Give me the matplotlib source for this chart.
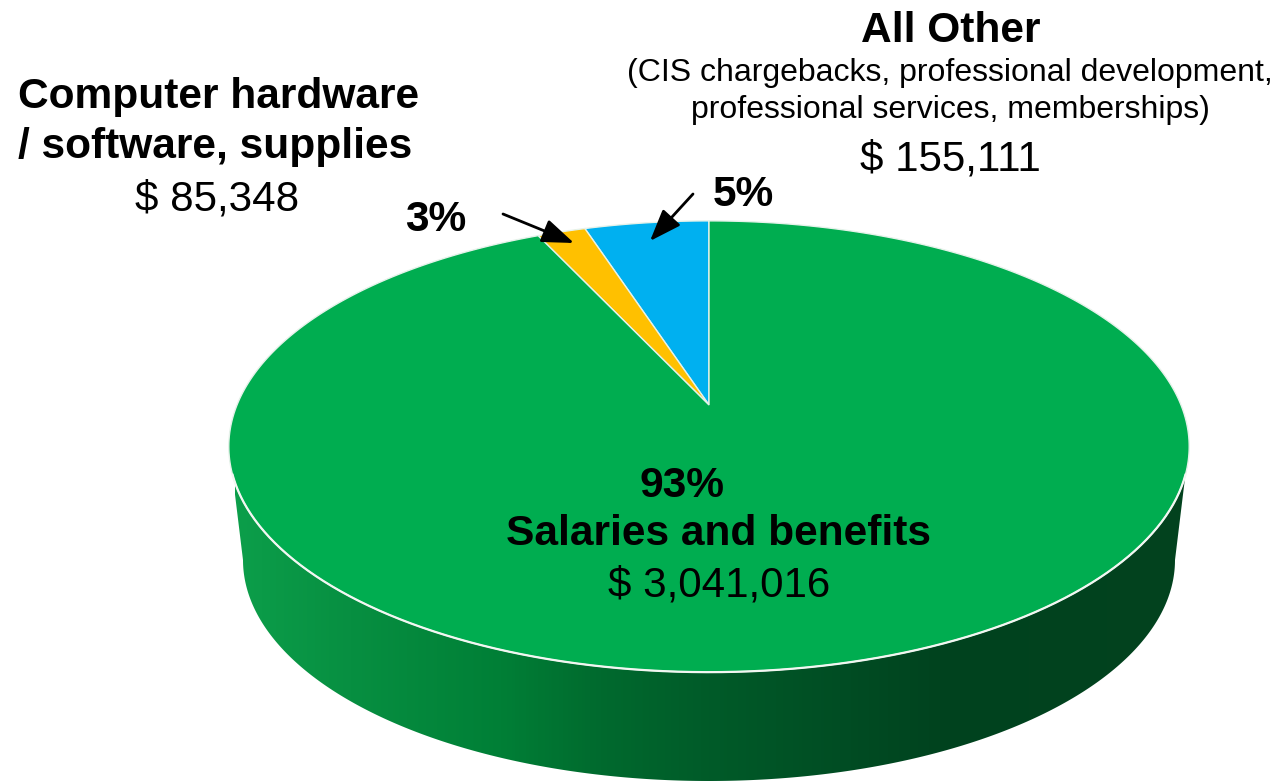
import numpy as np
import matplotlib
matplotlib.use('Agg')
import matplotlib.pyplot as plt
from matplotlib.colors import LinearSegmentedColormap
from matplotlib.patches import Polygon

plt.rcParams['font.family'] = ['Liberation Sans', 'DejaVu Sans']

slice_names = ['All Other', 'Computer hardware / software, supplies', 'Salaries and benefits']
slice_shares = [5.0, 1.94, 93.06]
slice_colors = ['#00B0F0', '#FFC000', '#00AD50']
slice_amounts = ['$ 155,111', '$ 85,348', '$ 3,041,016']
slice_percents = ['5%', '3%', '93%']

# side shading, left to right
shade_x = [235, 350, 500, 600, 700, 850, 950, 1190]
shade_colors = ['#0C9E4A', '#078F41', '#007F36', '#006A2E', '#005C29', '#004C23', '#00421E', '#03431F']

# perspective look of the top disc, pixels
cx, cy = 709, 405
A, B, k = 218, 472, 0.184


def project(theta):
    # theta clockwise from the far side of the disc
    d = 1 + k*np.cos(theta)
    return cx + B*np.sin(theta)/d, cy - A*np.cos(theta)/d


fig = plt.figure(figsize=(12.78, 7.81), dpi=100)
ax = fig.add_axes([0, 0, 1, 1])
ax.set_xlim(0, 1278)
ax.set_ylim(781, 0)
ax.axis('off')

# side wall
t_front = np.linspace(np.radians(107.6), np.radians(252.4), 300)
x_top, y_top = project(t_front)
t_low = np.linspace(np.pi, 0, 300)
x_low = 709 + 466*np.cos(t_low)
y_low = 560 + 221*np.sin(t_low)
wall = Polygon(np.vstack([np.column_stack([x_top, y_top]), np.column_stack([x_low, y_low])]),
               closed=True, fc='none', ec='none')
ax.add_patch(wall)
pos = (np.array(shade_x) - shade_x[0])/(shade_x[-1] - shade_x[0])
cmap = LinearSegmentedColormap.from_list('side', list(zip(pos, shade_colors)))
im = ax.imshow(np.linspace(0, 1, 600).reshape(1, -1), cmap=cmap, aspect='auto',
               extent=(shade_x[0], shade_x[-1], 781, 400), zorder=1)
im.set_clip_path(wall)
ax.set_xlim(0, 1278)
ax.set_ylim(781, 0)

# top disc, angles from the shares
angles = np.cumsum([0] + slice_shares)/sum(slice_shares)*2*np.pi
for i in range(3):
    t = -np.linspace(angles[i], angles[i+1], 400)
    x, y = project(t)
    pts = np.vstack([[cx, cy], np.column_stack([x, y])])
    ax.add_patch(Polygon(pts, closed=True, fc=slice_colors[i], ec='#E6F2EA', lw=1.0, zorder=2))

# white rim on the front edge
ax.plot(x_top, y_top, color='#F2F7F2', lw=1.6, zorder=3)

# labels
bold = dict(fontsize=30.6, fontweight='bold', va='baseline')
plain = dict(fontsize=30.3, ha='center', va='baseline')
small = dict(fontsize=23.0, ha='center', va='baseline')
ax.text(951, 42, slice_names[0], ha='center', **bold)
ax.text(950, 81, '(CIS chargebacks, professional development,', **small)
ax.text(950, 118, 'professional services, memberships)', **small)
ax.text(950, 170, slice_amounts[0], **plain)
ax.text(18, 108, 'Computer hardware', ha='left', **bold)
ax.text(18, 158, '/ software, supplies', ha='left', **bold)
ax.text(217, 210, slice_amounts[1], **plain)
ax.text(436, 231, slice_percents[1], ha='center', **bold)
ax.text(743, 206, slice_percents[0], ha='center', **bold)
ax.text(682, 497, slice_percents[2], ha='center', **bold)
ax.text(719, 545, slice_names[2], ha='center', **bold)
ax.text(719, 597, slice_amounts[2], **plain)

# arrows
arrow = dict(arrowstyle='-|>,head_length=0.75,head_width=0.28', color='black', lw=2,
             shrinkA=0, shrinkB=0, mutation_scale=26)
ax.annotate('', xy=(574, 243), xytext=(503, 214), arrowprops=arrow, zorder=4)
ax.annotate('', xy=(650, 241), xytext=(693, 194), arrowprops=arrow, zorder=4)

fig.savefig('out.png', dpi=100)
